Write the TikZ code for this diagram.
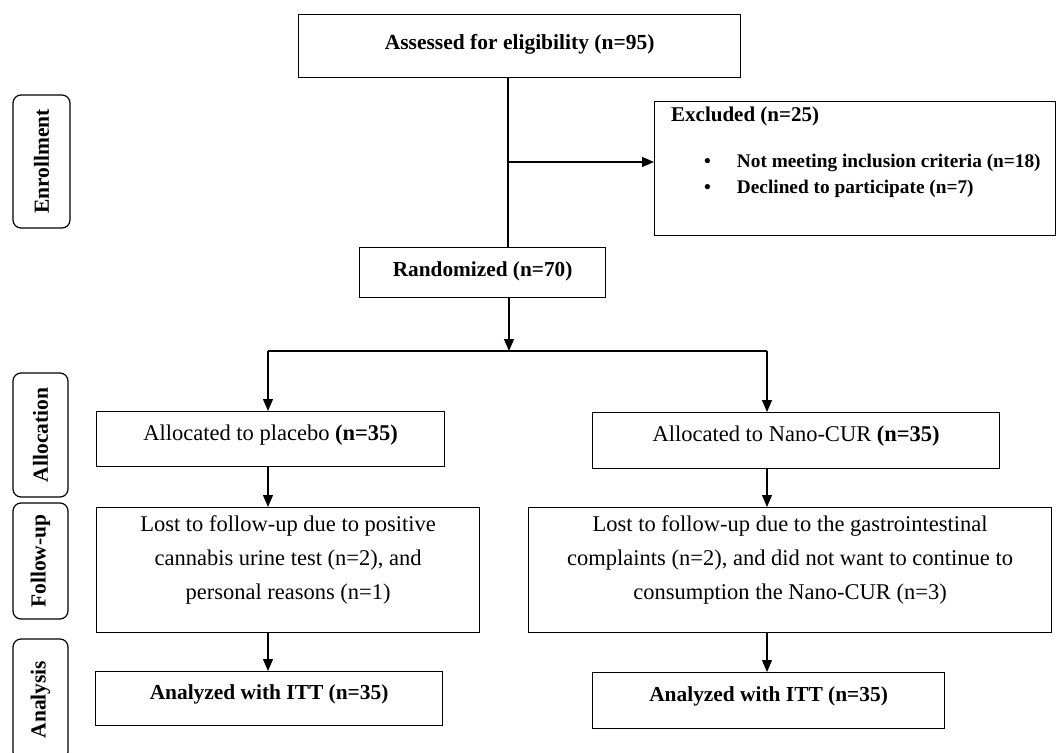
\documentclass[tikz,border=0pt]{standalone}
\usepackage{fontspec}
\setmainfont{Liberation Serif}
\usetikzlibrary{arrows.meta,positioning}

\begin{document}
\begin{tikzpicture}[x=1pt,y=-1pt,>={Triangle[length=12pt,width=10pt]}]
\begin{scope}

\tikzstyle{boxnode} = [draw,line width=1.2pt,inner sep=0pt,font=\fontsize{22.5}{27}\selectfont];
\tikzstyle{stagenode} = [draw,line width=1.2pt,rounded corners=8pt,inner sep=0pt,rotate=90,font=\bfseries\fontsize{21.5}{26}\selectfont];
\tikzstyle{linknode} = [line width=1.2pt];

\useasboundingbox (0,0) rectangle (1056,752);

% stages
\node [stagenode,minimum width=133pt,minimum height=57pt] (enrol) at (41.5,161.5) {Enrollment};
\node [stagenode,minimum width=124pt,minimum height=55pt] (alloc) at (40.5,435) {Allocation};
\node [stagenode,minimum width=116pt,minimum height=55pt] (follow) at (40.5,561) {Follow-up};
\node [stagenode,minimum width=121pt,minimum height=55pt] (analys) at (40.5,699.5) {Analysis};

% enrollment
\node [boxnode,anchor=north west,minimum width=442pt,minimum height=63pt,text height=15pt,text depth=8pt,font=\bfseries\fontsize{21.5}{26}\selectfont] (assess) at (298,14) {Assessed for eligibility (n=95)};
\node [boxnode,anchor=north west,minimum width=401pt,minimum height=134pt] (excl) at (654,101) {};
\node [anchor=west,inner sep=0pt,font=\bfseries\fontsize{21}{25}\selectfont] (exclhead) at (671,116) {Excluded (n=25)};
\node [anchor=west,inner sep=0pt,font=\bfseries\fontsize{19.3}{26}\selectfont] (excllist) at (704,175) {\begin{tabular}{@{}l@{\hspace{26pt}}l@{}}\textbullet & Not meeting inclusion criteria (n=18)\\ \textbullet & Declined to participate (n=7)\end{tabular}};
\node [boxnode,anchor=north west,minimum width=246pt,minimum height=50pt,text height=15pt,text depth=8pt,font=\bfseries\fontsize{21.3}{26}\selectfont] (rand) at (359,247) {Randomized (n=70)};

% allocation
\node [boxnode,anchor=north west,minimum width=348pt,minimum height=55pt,text height=15pt,text depth=13pt] (plac) at (96,411) {Allocated to placebo \textbf{(n=35)}};
\node [boxnode,anchor=north west,minimum width=407pt,minimum height=56pt,text height=15pt,text depth=13pt] (nano) at (592,412) {Allocated to Nano-CUR \textbf{(n=35)}};

% follow-up
\node [boxnode,anchor=north west,minimum width=383pt,minimum height=123pt,font=\fontsize{22.5}{34}\selectfont] (fu1) at (96,507) {\begin{tabular}{c}Lost to follow-up due to positive\\cannabis urine test (n=2), and\\personal reasons (n=1)\\[23pt]\end{tabular}};
\node [boxnode,anchor=north west,minimum width=523pt,minimum height=123pt,font=\fontsize{22.5}{34}\selectfont] (fu2) at (528,507) {\begin{tabular}{c}Lost to follow-up due to the gastrointestinal\\complaints (n=2), and did not want to continue to\\consumption the Nano-CUR (n=3)\\[23pt]\end{tabular}};

% analysis
\node [boxnode,anchor=north west,minimum width=347pt,minimum height=54pt,text height=15pt,text depth=13pt,font=\bfseries\fontsize{21.4}{26}\selectfont] (ana1) at (95,671) {Analyzed with ITT (n=35)};
\node [boxnode,anchor=north west,minimum width=352pt,minimum height=56pt,text height=15pt,text depth=13pt,font=\bfseries\fontsize{21.4}{26}\selectfont] (ana2) at (592,672) {Analyzed with ITT (n=35)};

% connectors
\coordinate (trunk) at (508,162);
\coordinate (split) at (509,351);
\coordinate (lcol) at (268,351);
\coordinate (rcol) at (767,351);

\draw [linknode] (assess.south -| trunk) -- (rand.north -| trunk);
\draw [linknode,->] (trunk) -- (trunk -| excl.west);
\draw [linknode,->] (rand.south -| split) -- (split);
\draw [linknode] (lcol) -- (rcol);
\draw [linknode,->] (lcol) -- (lcol |- plac.north);
\draw [linknode,->] (rcol) -- (rcol |- nano.north);
\draw [linknode,->] (lcol |- plac.south) -- (lcol |- fu1.north);
\draw [linknode,->] (rcol |- nano.south) -- (rcol |- fu2.north);
\draw [linknode,->] (lcol |- fu1.south) -- (lcol |- ana1.north);
\draw [linknode,->] (rcol |- fu2.south) -- (rcol |- ana2.north);

\end{scope}
\end{tikzpicture}
\end{document}
